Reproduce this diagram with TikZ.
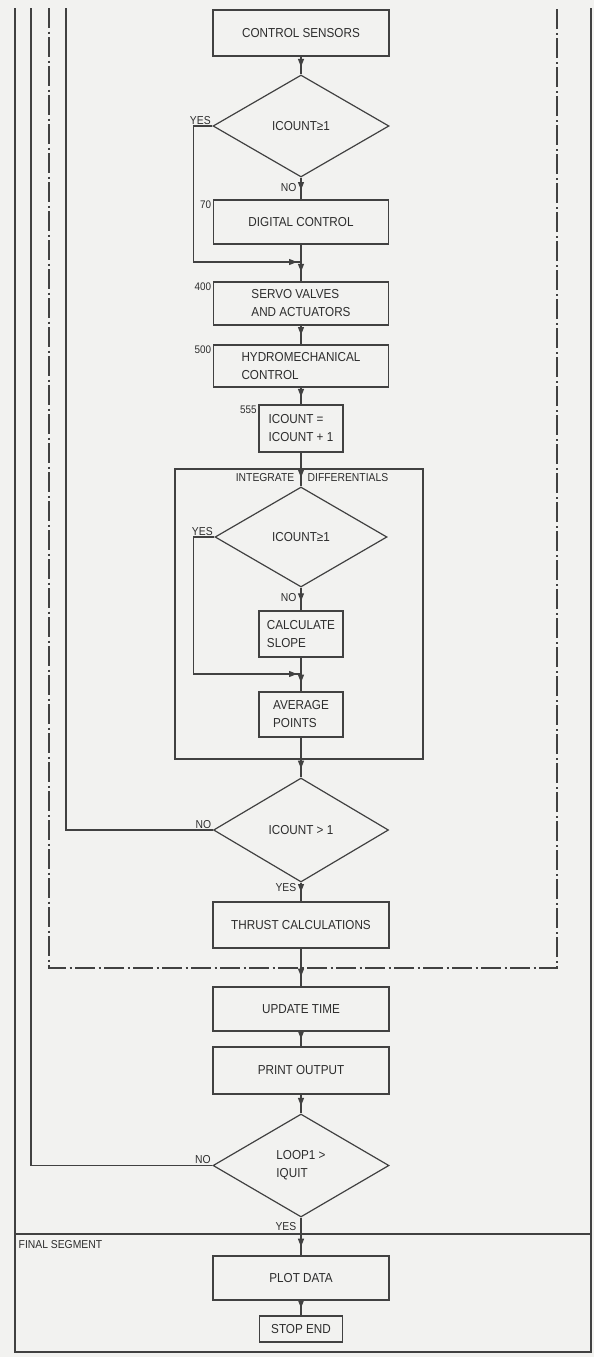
\documentclass[tikz,border=0pt]{standalone}
\usepackage{fontspec}
\setmainfont{Liberation Sans}[FakeStretch=0.9]
\usetikzlibrary{shapes.geometric,arrows.meta,decorations.markings}
\definecolor{ink}{RGB}{65,65,65}
\definecolor{txt}{RGB}{45,45,45}
\definecolor{paper}{RGB}{242,242,240}
\begin{document}
\begin{tikzpicture}[x=1pt,y=-1pt,
  box/.style={draw=ink, line width=1.2pt, rectangle, inner sep=2pt, align=left, text=txt, font=\fontsize{13}{18}\selectfont},
  dia/.style={draw=ink, line width=1.2pt, diamond, inner sep=0pt, align=left, text=txt, font=\fontsize{13}{18}\selectfont},
  lbl/.style={text=txt, inner sep=1.5pt, font=\fontsize{11.5}{13}\selectfont},
  num/.style={text=txt, inner sep=1.5pt, font=\fontsize{11}{12}\selectfont},
  conn/.style={draw=ink, line width=1.2pt},
  arr/.style={postaction={decorate}, decoration={markings, mark=at position #1 with {\arrow[ink]{Triangle[length=8pt,width=6pt]}}}},
  arr/.default=0.55,
  dashdot/.style={dash pattern=on 20pt off 3.5pt on 2pt off 3.5pt}
]
\fill[paper] (0,0) rectangle (594,1357);
\useasboundingbox (0,0) rectangle (594,1357);

% frame and loop lines
\coordinate (f1) at (15,8);
\coordinate (f2) at (15,1352);
\coordinate (f3) at (591,1352);
\coordinate (f4) at (591,8);
\draw[conn] (f1) -- (f2) -- (f3) -- (f4);
\coordinate (h1) at (15,1234);
\coordinate (h2) at (591,1234);
\draw[conn] (h1) -- (h2);
\coordinate (db1) at (49,8);
\coordinate (db2) at (557,8);
\coordinate (db3) at (557,968);
\draw[conn, dashdot] (db1) |- (db3) -- (db2);

% nodes
\node[box, align=center, minimum width=176, minimum height=46] (cs) at (301,33) {CONTROL SENSORS};
\node[dia, minimum width=176, minimum height=102] (d1) at (301,126) {ICOUNT≥1};
\node[box, align=center, minimum width=175, minimum height=44] (dc) at (301,222) {DIGITAL CONTROL};
\node[box, minimum width=175, minimum height=43] (sv) at (301,303.5) {SERVO VALVES\\AND ACTUATORS};
\node[box, minimum width=175, minimum height=42] (hm) at (301,366) {HYDROMECHANICAL\\CONTROL};
\node[box, minimum width=84, minimum height=47] (ic) at (301,428.5) {ICOUNT =\\ICOUNT + 1};
\node[draw=ink, line width=1.2pt, minimum width=248, minimum height=290, inner sep=0pt] (ig) at (299,614) {};
\node[dia, minimum width=172, minimum height=100] (d2) at (301,537) {ICOUNT≥1};
\node[box, minimum width=84, minimum height=46] (sl) at (301,634) {CALCULATE\\SLOPE};
\node[box, minimum width=84, minimum height=45] (av) at (301,714.5) {AVERAGE\\POINTS};
\node[dia, minimum width=175, minimum height=104] (d3) at (301,830) {ICOUNT > 1};
\node[box, align=center, minimum width=176, minimum height=46] (th) at (301,925) {THRUST CALCULATIONS};
\node[box, align=center, minimum width=176, minimum height=44] (ut) at (301,1009) {UPDATE TIME};
\node[box, align=center, minimum width=176, minimum height=47] (po) at (301,1070.5) {PRINT OUTPUT};
\node[dia, minimum width=176, minimum height=103] (d4) at (301,1165.5) {LOOP1 >\\IQUIT};
\node[box, align=center, minimum width=176, minimum height=44] (pd) at (301,1278) {PLOT DATA};
\node[box, align=center, minimum width=83, minimum height=26] (se) at (301,1329) {STOP END};

% labels
\node[num, anchor=north east] at (dc.north west) {70};
\node[num, anchor=north east] at (sv.north west) {400};
\node[num, anchor=north east] at (hm.north west) {500};
\node[num, anchor=north east] at (ic.north west) {555};
\node[lbl, anchor=south east] at (d1.west) {YES};
\node[lbl, anchor=south east] at (d2.west) {YES};
\node[lbl, anchor=south east] at (d3.west) {NO};
\node[lbl, anchor=south east] at (d4.west) {NO};
\node[lbl, anchor=east] at (298,188) {NO};
\node[lbl, anchor=east] at (298,598) {NO};
\node[lbl, anchor=east] at (298,888) {YES};
\node[lbl, anchor=east] at (298,1227) {YES};
\node[lbl, anchor=east] at (296,478) {INTEGRATE};
\node[lbl, anchor=west] at (306,478) {DIFFERENTIALS};
\node[lbl, anchor=north west] at (17,1239) {FINAL SEGMENT};

% connectors
\coordinate (j1) at (301,262);
\coordinate (j2) at (301,674);
\coordinate (t3) at (66,8);
\coordinate (t4) at (31,8);
\draw[conn, arr=0.58] (cs) -- (d1);
\draw[conn, arr=0.57] (d1) -- (dc);
\draw[conn, arr=0.74] (dc) -- (sv);
\draw[conn, arr=-4pt] (d1.west) -- ++(-19,0) |- (j1);
\draw[conn, arr=0.5] (sv) -- (hm);
\draw[conn, arr=0.55] (hm) -- (ic);
\draw[conn, arr=0.74] (ic) -- (d2);
\draw[conn, arr=0.6] (d2) -- (sl);
\draw[conn, arr=-4pt] (d2.west) -- ++(-21,0) |- (j2);
\draw[conn, arr=0.74] (sl) -- (av);
\draw[conn, arr=0.78] (av) -- (d3);
\draw[conn] (d3.west) -| (t3);
\draw[conn, arr=0.5] (d3) -- (th);
\draw[conn, arr=0.74] (th) -- (ut);
\draw[conn, arr=0.5] (ut) -- (po);
\draw[conn, arr=0.6] (po) -- (d4);
\draw[conn] (d4.west) -| (t4);
\draw[conn, arr=0.77] (d4) -- (pd);
\draw[conn, arr=0.5] (pd) -- (se);
\end{tikzpicture}
\end{document}
